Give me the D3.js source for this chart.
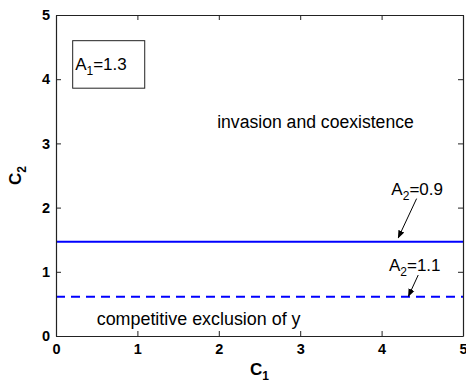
<!DOCTYPE html>
<html>
<head>
<meta charset="utf-8">
<script src="https://cdn.jsdelivr.net/npm/d3@7"></script>
<style>
  body { margin: 0; background: #fff; }
  svg { display: block; font-family: "Liberation Sans", Arial, Helvetica, sans-serif; }
</style>
</head>
<body>
<svg id="chart" width="466" height="384"></svg>
<script>
// ---- data ----
const xTickValues = [0, 1, 2, 3, 4, 5];
const yTickValues = [0, 1, 2, 3, 4, 5];
const xDomain = [0, 5];
const yDomain = [0, 5];
const seriesNames = ["A2=0.9", "A2=1.1"];
const seriesLevels = [1.47, 0.61];   // constant c2 thresholds
const paramLabel = "A1=1.3";
const regionLabels = ["invasion and coexistence", "competitive exclusion of y"];

// ---- layout ----
const W = 466, H = 384;
const margin = { left: 56, right: 3, top: 15, bottom: 48 };
const svg = d3.select("#chart");
const x = d3.scaleLinear().domain(xDomain).range([margin.left, W - margin.right]);
const y = d3.scaleLinear().domain(yDomain).range([H - margin.bottom, margin.top]);
const axisColor = "#222";
const blue = "#0000ff";

// defs: arrowhead
svg.append("defs").append("marker")
  .attr("id", "arrow").attr("viewBox", "0 0 10 10")
  .attr("refX", 9).attr("refY", 5)
  .attr("markerWidth", 8).attr("markerHeight", 8)
  .attr("markerUnits", "userSpaceOnUse")
  .attr("orient", "auto")
  .append("path").attr("d", "M0,1 L10,5 L0,9 Z").attr("fill", "#000");

// ---- series lines ----
const lineGen = d3.line().x(d => x(d[0])).y(d => y(d[1]));
seriesLevels.forEach((lvl, i) => {
  svg.append("path")
    .datum(xDomain.map(v => [v, lvl]))
    .attr("d", lineGen)
    .attr("fill", "none")
    .attr("stroke", blue)
    .attr("stroke-width", 2)
    .attr("stroke-dasharray", i === 1 ? "9,6" : null);
});

// ---- axes (boxed, inward ticks) ----
const tickLen = 5;
const bottomAxis = d3.axisBottom(x).tickValues(xTickValues).tickFormat(d3.format("d")).tickSizeInner(-tickLen).tickSizeOuter(0).tickPadding(8);
const leftAxis = d3.axisLeft(y).tickValues(yTickValues).tickFormat(d3.format("d")).tickSizeInner(-tickLen).tickSizeOuter(0).tickPadding(6);
const topAxis = d3.axisTop(x).tickValues(xTickValues).tickFormat("").tickSizeInner(-tickLen).tickSizeOuter(0);
const rightAxis = d3.axisRight(y).tickValues(yTickValues).tickFormat("").tickSizeInner(-tickLen).tickSizeOuter(0);

function styleAxis(g) {
  g.select(".domain").attr("stroke", axisColor).attr("stroke-width", 1.2);
  g.selectAll(".tick line").attr("stroke", axisColor).attr("stroke-width", 1);
  g.selectAll(".tick text").attr("fill", "#000").attr("font-size", 14.5).attr("font-weight", "bold")
    .attr("font-family", "'Liberation Sans', Arial, sans-serif");
}
svg.append("g").attr("transform", `translate(0,${y(0)})`).call(bottomAxis).call(styleAxis);
svg.append("g").attr("transform", `translate(${x(0)},0)`).call(leftAxis).call(styleAxis);
svg.append("g").attr("transform", `translate(0,${y(5)})`).call(topAxis).call(styleAxis);
svg.append("g").attr("transform", `translate(${x(5)},0)`).call(rightAxis).call(styleAxis);

// helper for subscripted labels like "A2=0.9"
function subText(sel, letter, sub, rest, size, subSize, subDy) {
  sel.append("tspan").text(letter);
  sel.append("tspan").attr("font-size", subSize).attr("dy", subDy).text(sub);
  sel.append("tspan").attr("dy", -subDy).text(rest);
}

// ---- axis titles ----
const xt = svg.append("text")
  .attr("x", x(2.5)).attr("y", 375)
  .attr("text-anchor", "middle").attr("font-size", 17).attr("font-weight", "bold").attr("fill", "#000");
subText(xt, "C", "1", "", 17, 12, 5);

const yt = svg.append("text")
  .attr("transform", `translate(21,${y(2.5)}) rotate(-90)`)
  .attr("text-anchor", "middle").attr("font-size", 17).attr("font-weight", "bold").attr("fill", "#000");
subText(yt, "C", "2", "", 17, 12, 5);

// ---- parameter box ----
svg.append("rect")
  .attr("x", x(0.205)).attr("y", y(4.6))
  .attr("width", x(1.09) - x(0.205)).attr("height", y(3.86) - y(4.6))
  .attr("fill", "none").attr("stroke", "#222").attr("stroke-width", 1);
const pl = svg.append("text").attr("x", x(0.235)).attr("y", y(4.14)).attr("font-size", 17).attr("fill", "#000");
subText(pl, paramLabel.slice(0, 1), paramLabel.slice(1, 2), paramLabel.slice(2), 17, 12, 5);

// ---- region labels ----
svg.append("text").attr("x", x(1.98)).attr("y", y(3.24)).attr("font-size", 17.6).attr("fill", "#000").text(regionLabels[0]);
svg.append("text").attr("x", x(0.5)).attr("y", y(0.17)).attr("font-size", 17.9).attr("fill", "#000").text(regionLabels[1]);

// ---- series annotations with arrows ----
const annPos = [
  { tx: 4.12, ty: 2.20, from: [4.43, 2.14], to: [4.205, 1.53] },
  { tx: 4.09, ty: 1.02, from: [4.45, 0.95], to: [4.33, 0.62] }
];
seriesNames.forEach((name, i) => {
  const a = annPos[i];
  const t = svg.append("text").attr("x", x(a.tx)).attr("y", y(a.ty)).attr("font-size", 17).attr("fill", "#000");
  subText(t, name.slice(0, 1), name.slice(1, 2), name.slice(2), 17, 12, 5);
  svg.append("line")
    .attr("x1", x(a.from[0])).attr("y1", y(a.from[1]))
    .attr("x2", x(a.to[0])).attr("y2", y(a.to[1]))
    .attr("stroke", "#000").attr("stroke-width", 1)
    .attr("marker-end", "url(#arrow)");
});
</script>
</body>
</html>
